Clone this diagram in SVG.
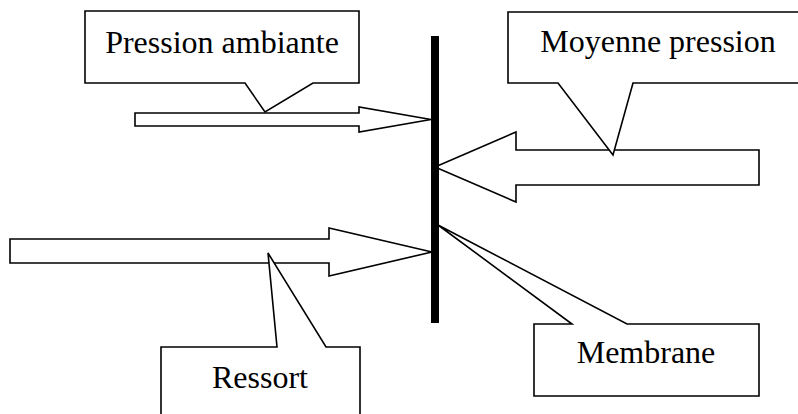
<svg xmlns="http://www.w3.org/2000/svg" width="798" height="414" viewBox="0 0 798 414">
<style>
.shape{fill:#fff;stroke:#000;stroke-width:1.6;stroke-linejoin:miter}
.lbl{font-family:"Liberation Serif","Times New Roman",serif;font-size:32px;fill:#000;text-anchor:middle}
</style>
<rect x="0" y="0" width="798" height="414" fill="#fff"/>
<g id="connectors">
<path class="shape" d="M135,113 H359 V107 L431,119.5 L359,132 V126 H135 Z"/>
<path class="shape" d="M10,239 H329 V228 L432,252 L329,276 V263 H10 Z"/>
<path class="shape" d="M435,167 L516,132 V150 H759 V185 H516 V202 Z"/>
</g>
<g id="membrane-bar">
<rect x="431" y="36" width="8" height="287" fill="#000"/>
</g>
<g id="pression-ambiante">
<path class="shape" d="M85,11 H359 V83 H313 L265,112 L245,83 H85 Z"/>
<text class="lbl" x="222" y="53">Pression ambiante</text>
</g>
<g id="moyenne-pression">
<path class="shape" d="M508,12 H812 V83 H633 L613,155 L558,83 H508 Z"/>
<text class="lbl" x="658" y="52">Moyenne pression</text>
</g>
<g id="ressort">
<path class="shape" d="M161,420 V347 H277 L268,253 L326,347 H360 V420 Z"/>
<text class="lbl" x="260" y="388">Ressort</text>
</g>
<g id="membrane">
<path class="shape" d="M534,324 H572 L438,225 L627,324 H759 V396 H534 Z"/>
<text class="lbl" x="646" y="363">Membrane</text>
</g>
</svg>
